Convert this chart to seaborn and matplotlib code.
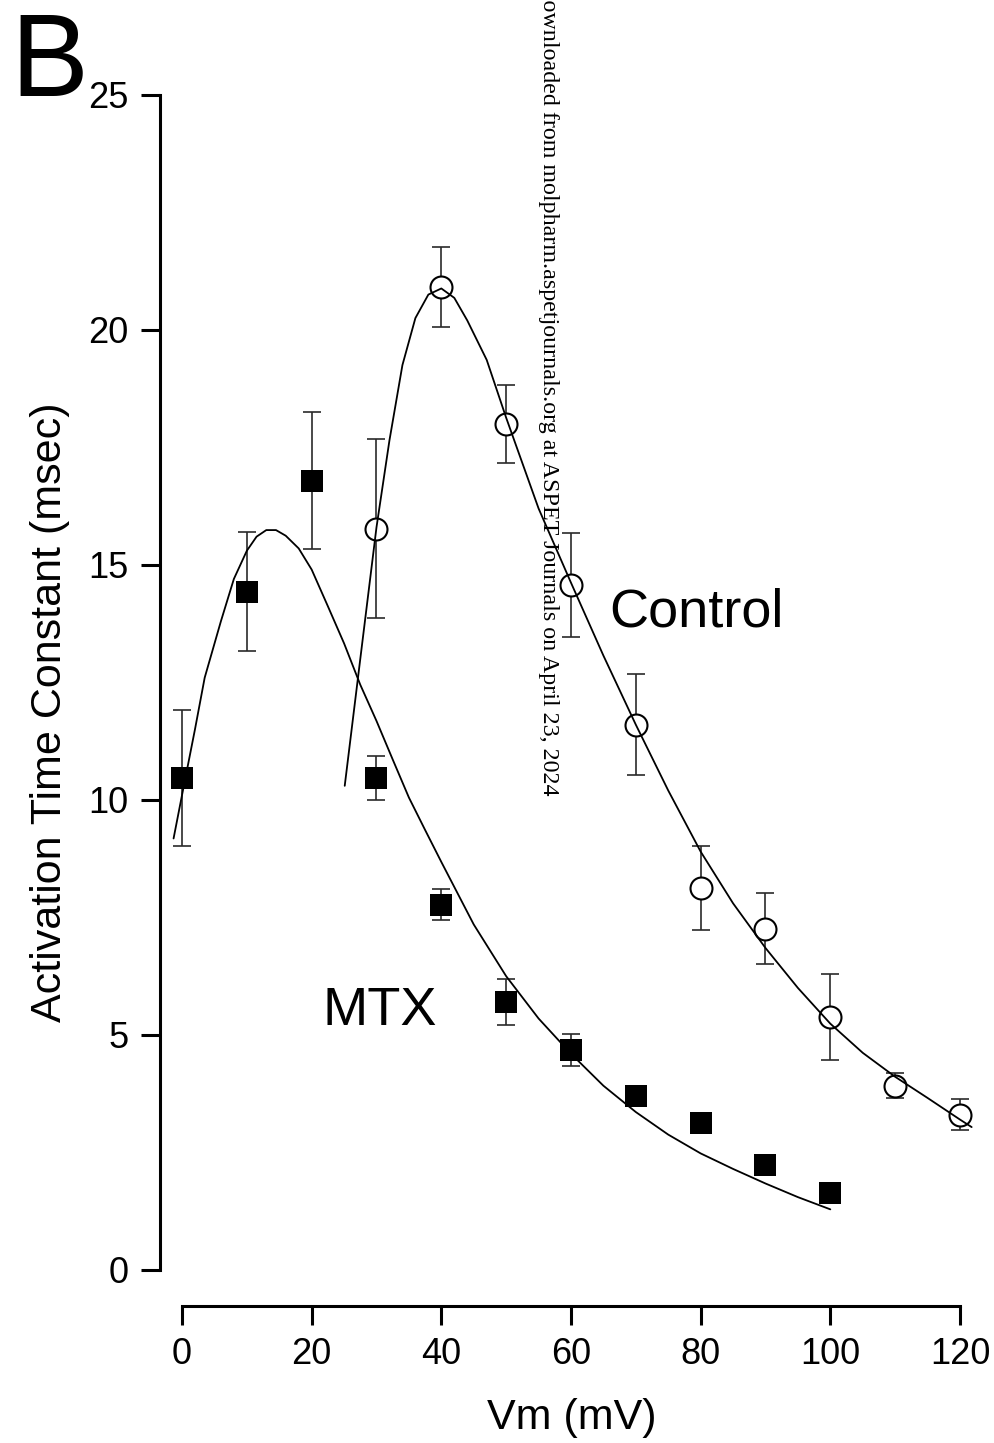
import matplotlib
matplotlib.use("Agg")
import matplotlib.pyplot as plt
import seaborn as sns

# Measured activation time constants (mean, SEM) vs. test potential
vm_mtx = [0, 10, 20, 30, 40, 50, 60, 70, 80, 90, 100]
tau_mtx = [10.47, 14.43, 16.79, 10.47, 7.77, 5.70, 4.68, 3.70, 3.13, 2.23, 1.64]
sem_mtx = [1.45, 1.27, 1.46, 0.47, 0.33, 0.48, 0.34, 0.20, 0.20, 0.20, 0.20]

vm_ctl = [30, 40, 50, 60, 70, 80, 90, 100, 110, 120]
tau_ctl = [15.77, 20.91, 18.00, 14.57, 11.60, 8.13, 7.26, 5.38, 3.92, 3.30]
sem_ctl = [1.90, 0.85, 0.83, 1.10, 1.08, 0.90, 0.75, 0.92, 0.27, 0.33]

# Fitted curves
fit_vm_mtx = [-1.3, 0, 2, 3.5, 6, 8, 10, 11.5, 13, 14.5, 16, 18, 20, 22.5, 25,
              27.5, 30, 32.5, 35, 37.5, 40, 45, 50, 55, 60, 65, 70, 75, 80,
              85, 90, 95, 100]
fit_tau_mtx = [9.18, 10.1, 11.5, 12.6, 13.8, 14.7, 15.3, 15.6, 15.74, 15.74,
               15.62, 15.35, 14.9, 14.12, 13.33, 12.45, 11.68, 10.86, 10.05,
               9.36, 8.68, 7.35, 6.25, 5.35, 4.6, 3.92, 3.36, 2.88, 2.48,
               2.15, 1.84, 1.55, 1.29]

fit_vm_ctl = [25.1, 27.5, 30, 32, 34, 36, 38, 40, 42, 44, 47, 50, 55, 60, 65,
              70, 75, 80, 85, 90, 95, 100, 105, 110, 115, 120, 121.8]
fit_tau_ctl = [10.3, 13.0, 15.8, 17.65, 19.25, 20.25, 20.75, 20.88, 20.68,
               20.2, 19.36, 18.13, 16.2, 14.62, 13.07, 11.6, 10.2, 8.9, 7.8,
               6.85, 6.0, 5.24, 4.62, 4.11, 3.66, 3.2, 3.04]

xticks = [0, 20, 40, 60, 80, 100, 120]
yticks = [0, 5, 10, 15, 20, 25]

sns.set_style("ticks")
plt.rcParams["font.family"] = ["Liberation Sans", "DejaVu Sans"]
plt.rcParams.update({
    "text.color": "black",
    "axes.labelcolor": "black",
    "xtick.color": "black",
    "ytick.color": "black",
    "axes.edgecolor": "black",
})

W, H = 995, 1443
fig = plt.figure(figsize=(W / 100, H / 100), dpi=100)
ax = fig.add_axes([160 / W, (H - 1306) / H, 830 / W, 1246 / H])

# error bars first, markers over them, fits on top
ax.errorbar(vm_mtx, tau_mtx, yerr=sem_mtx, fmt="none", ecolor="#2a2a2a",
            elinewidth=1.2, capsize=6.5, capthick=1.2, zorder=2)
ax.errorbar(vm_ctl, tau_ctl, yerr=sem_ctl, fmt="none", ecolor="#2a2a2a",
            elinewidth=1.2, capsize=6.5, capthick=1.2, zorder=2)

sns.scatterplot(x=vm_mtx, y=tau_mtx, marker="s", s=243, color="black",
                edgecolor="black", linewidth=0, zorder=3, ax=ax)
sns.scatterplot(x=vm_ctl, y=tau_ctl, marker="o", s=250, facecolor="white",
                edgecolor="black", linewidth=1.5, zorder=3, ax=ax)

sns.lineplot(x=fit_vm_mtx, y=fit_tau_mtx, sort=False, estimator=None,
             color="black", linewidth=1.3, zorder=4, ax=ax)
sns.lineplot(x=fit_vm_ctl, y=fit_tau_ctl, sort=False, estimator=None,
             color="black", linewidth=1.3, zorder=4, ax=ax)

ax.set_xlim(-3.393, 124.63)
ax.set_ylim(-0.766, 25.74)
ax.set_xticks(xticks)
ax.set_yticks(yticks)
ax.tick_params(direction="out", length=14, width=2.2, labelsize=26, pad=8.6,
               color="black", labelcolor="black")
for side in ("top", "right"):
    ax.spines[side].set_visible(False)
ax.spines["left"].set_bounds(0, 25)
ax.spines["bottom"].set_bounds(0, 120)
for side in ("left", "bottom"):
    ax.spines[side].set_linewidth(2.2)
    ax.spines[side].set_color("black")

ax.set_xlabel("Vm (mV)", fontsize=31, va="center", color="black")
ax.xaxis.set_label_coords(0.4964, -0.0899)
ax.set_ylabel("Activation Time Constant (msec)", fontsize=31, va="center",
              ha="center", color="black")
ax.yaxis.set_label_coords(-0.1325, 0.4767)

ax.text(79.4, 13.68, "Control", fontsize=39, ha="center", va="baseline",
        color="black")
ax.text(30.5, 5.21, "MTX", fontsize=39, ha="center", va="baseline",
        color="black")

fig.text(10 / W, 1 - 96 / H, "B", fontsize=84, ha="left", va="baseline",
         color="black")

fig.text(548 / W, 1 - 795 / H,
         "Downloaded from molpharm.aspetjournals.org at ASPET Journals on April 23, 2024",
         rotation=270, ha="center", va="bottom", family="Liberation Serif",
         fontsize=17.3, color="black")

fig.savefig("out.png", dpi=100)
